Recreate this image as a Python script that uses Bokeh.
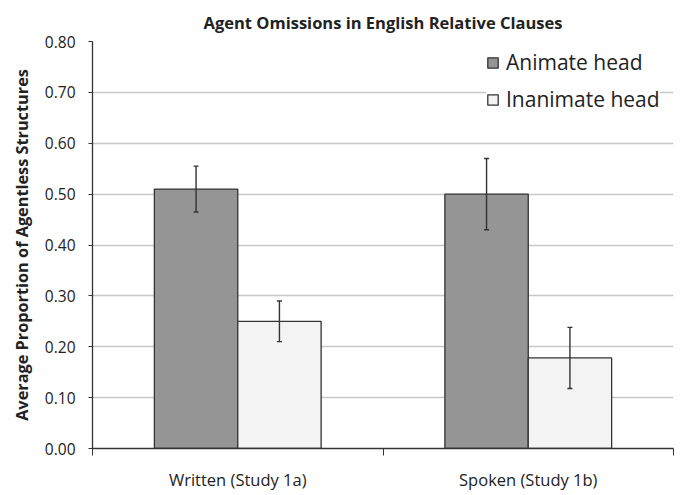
from bokeh.plotting import figure
from bokeh.models import FixedTicker, Whisker, ColumnDataSource, TeeHead, Legend, LegendItem, Range1d, Title
from bokeh.embed import file_html
from bokeh.resources import INLINE

groups = ["Written (Study 1a)", "Spoken (Study 1b)"]
series = ["Animate head", "Inanimate head"]
animate = [0.51, 0.50]
animate_err = [0.045, 0.07]
inanimate = [0.25, 0.178]
inanimate_err = [0.04, 0.06]
y_ticks = [0.0, 0.1, 0.2, 0.3, 0.4, 0.5, 0.6, 0.7, 0.8]
y_title = "Average Proportion of Agentless Structures"

FONT = "Open Sans"
BAR_W = 0.287
OFF = 0.1435
INK = "#222222"
EDGE = "#333333"

p = figure(width=682, height=495, output_backend="svg", toolbar_location=None,
           x_range=Range1d(0, len(groups)), y_range=Range1d(0, 0.8),
           min_border_left=92, min_border_right=9, min_border_top=39, min_border_bottom=47)
p.outline_line_color = None
p.background_fill_color = "white"

p.title.text = "Agent Omissions in English Relative Clauses"
p.title.align = "center"
p.title.text_font = FONT
p.title.text_font_size = "16.5px"
p.title.text_font_style = "bold"
p.title.text_color = INK
p.title.standoff = 16

xs_a = [i + 0.5 - OFF for i in range(len(groups))]
xs_i = [i + 0.5 + OFF for i in range(len(groups))]

src_a = ColumnDataSource(dict(x=xs_a, top=animate,
                              lo=[v - e for v, e in zip(animate, animate_err)],
                              hi=[v + e for v, e in zip(animate, animate_err)]))
src_i = ColumnDataSource(dict(x=xs_i, top=inanimate,
                              lo=[v - e for v, e in zip(inanimate, inanimate_err)],
                              hi=[v + e for v, e in zip(inanimate, inanimate_err)]))

ra = p.vbar(x="x", top="top", width=BAR_W, source=src_a, fill_color="#959595", line_color=EDGE, line_width=1.3)
ri = p.vbar(x="x", top="top", width=BAR_W, source=src_i, fill_color="#f3f3f3", line_color=EDGE, line_width=1.3)

for s in (src_a, src_i):
    w = Whisker(base="x", lower="lo", upper="hi", source=s, line_color=EDGE, line_width=1.4,
                upper_head=TeeHead(size=5, line_color=EDGE, line_width=1.4),
                lower_head=TeeHead(size=5, line_color=EDGE, line_width=1.4),
                level="overlay")
    p.add_layout(w)

# axes
p.xaxis.ticker = FixedTicker(ticks=[i + 0.5 for i in range(len(groups))],
                             minor_ticks=list(range(len(groups) + 1)))
p.xaxis.major_label_overrides = {i + 0.5: g for i, g in enumerate(groups)}
p.xaxis.major_tick_line_color = None
p.xaxis.major_tick_out = 0
p.xaxis.major_tick_in = 0
p.xaxis.minor_tick_line_color = EDGE
p.xaxis.minor_tick_in = 0
p.xaxis.minor_tick_out = 7
p.xaxis.axis_line_color = EDGE
p.xaxis.axis_line_width = 1.3
p.xaxis.major_label_text_font = FONT
p.xaxis.major_label_text_font_size = "16.5px"
p.xaxis.major_label_text_color = INK
p.xaxis.major_label_standoff = 12

p.yaxis.ticker = FixedTicker(ticks=y_ticks)
p.yaxis.major_label_overrides = {t: f"{t:.2f}" for t in y_ticks}
p.yaxis.minor_tick_line_color = None
p.yaxis.major_tick_in = 0
p.yaxis.major_tick_out = 4
p.yaxis.major_tick_line_color = EDGE
p.yaxis.axis_line_color = EDGE
p.yaxis.axis_line_width = 1.3
p.yaxis.major_label_text_font = FONT
p.yaxis.major_label_text_font_size = "15.5px"
p.yaxis.major_label_text_color = INK
p.yaxis.major_label_standoff = 13

# y-axis title as a side title, so it can sit slightly above the frame centre
ytitle = Title(text=y_title, align="center", offset=23, standoff=17,
               text_font=FONT, text_font_size="16.3px", text_font_style="bold", text_color=INK)
p.add_layout(ytitle, "left")

p.xgrid.grid_line_color = None
p.ygrid.grid_line_color = "#c8c8c8"
p.ygrid.grid_line_width = 1.5

legend = Legend(items=[LegendItem(label=series[0], renderers=[ra]),
                       LegendItem(label=series[1], renderers=[ri])],
                location=(394, 334))
legend.label_text_font = FONT
legend.label_text_font_size = "21px"
legend.label_text_color = INK
legend.glyph_width = 13
legend.glyph_height = 13
legend.label_height = 30
legend.spacing = 7
legend.label_standoff = 7
legend.border_line_color = None
legend.background_fill_color = "white"
legend.background_fill_alpha = 1.0
legend.padding = 4
legend.margin = 0
p.add_layout(legend)

open("out.html", "w").write(file_html(p, INLINE))
